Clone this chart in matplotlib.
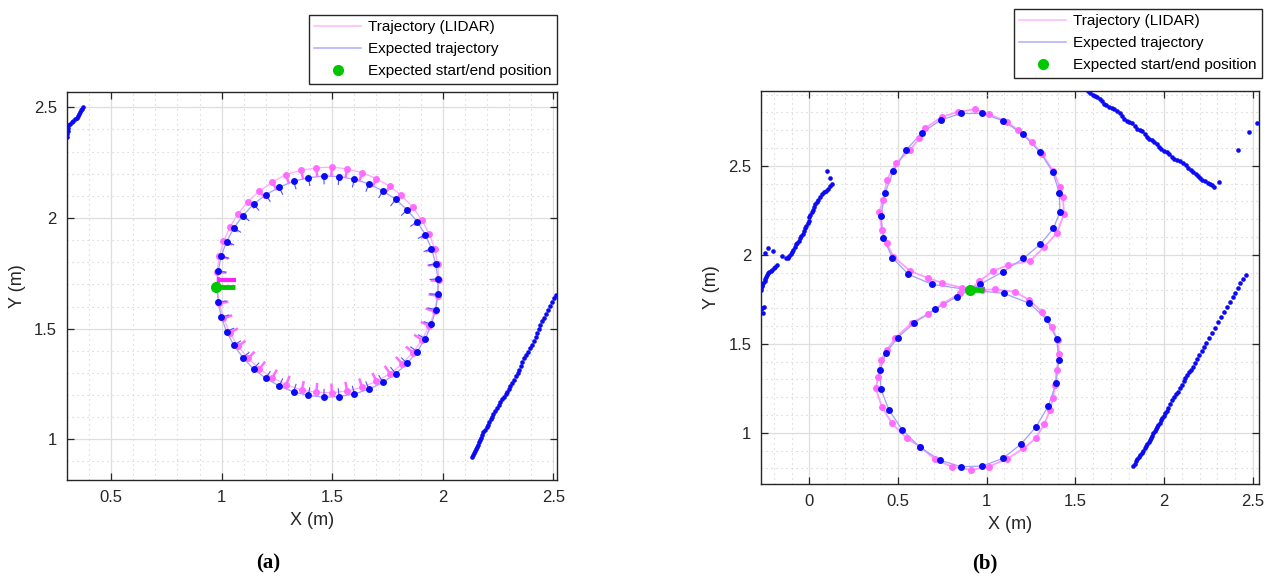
import numpy as np
import matplotlib.pyplot as plt
from matplotlib.lines import Line2D
from matplotlib.collections import LineCollection
from matplotlib.ticker import MultipleLocator

plt.rcParams['font.family'] = ['Liberation Sans', 'DejaVu Sans']

# ---------------- (a) circular trajectory ----------------
blue_a_x = [0.979, 0.984, 0.998, 1.022, 1.055, 1.096, 1.144, 1.199, 1.260, 1.325, 1.392, 1.462,
            1.531, 1.600, 1.666, 1.729, 1.787, 1.839, 1.884, 1.921, 1.949, 1.968, 1.978, 1.978,
            1.968, 1.949, 1.921, 1.884, 1.839, 1.787, 1.729, 1.666, 1.600, 1.531, 1.462, 1.392,
            1.325, 1.260, 1.199, 1.144, 1.096, 1.055, 1.022, 0.998, 0.984]
blue_a_y = [1.690, 1.620, 1.552, 1.487, 1.425, 1.369, 1.318, 1.276, 1.241, 1.214, 1.198, 1.190,
            1.193, 1.205, 1.226, 1.257, 1.296, 1.343, 1.396, 1.455, 1.519, 1.586, 1.655, 1.725,
            1.794, 1.861, 1.925, 1.984, 2.037, 2.084, 2.123, 2.154, 2.175, 2.187, 2.190, 2.182,
            2.166, 2.139, 2.105, 2.062, 2.011, 1.955, 1.893, 1.828, 1.760]
pink_a_x = [0.979, 0.989, 1.008, 1.037, 1.074, 1.119, 1.171, 1.229, 1.292, 1.362, 1.428, 1.498,
            1.567, 1.635, 1.700, 1.761, 1.816, 1.865, 1.906, 1.939, 1.963, 1.977, 1.982, 1.977,
            1.963, 1.939, 1.906, 1.865, 1.812, 1.761, 1.700, 1.635, 1.567, 1.498, 1.428, 1.359,
            1.289, 1.229, 1.171, 1.119, 1.074, 1.037, 1.008, 0.989, 0.979]
pink_a_y = [1.684, 1.614, 1.546, 1.481, 1.420, 1.366, 1.318, 1.278, 1.247, 1.222, 1.213, 1.210,
            1.218, 1.235, 1.262, 1.297, 1.341, 1.392, 1.450, 1.513, 1.579, 1.649, 1.720, 1.791,
            1.861, 1.927, 1.990, 2.048, 2.103, 2.143, 2.178, 2.205, 2.222, 2.230, 2.227, 2.215,
            2.196, 2.162, 2.122, 2.074, 2.020, 1.959, 1.894, 1.826, 1.756]
center_blue_a = (1.479, 1.690)
center_pink_a = (1.477, 1.720)
start_a = (0.976, 1.690)
start_lidar_a = (0.985, 1.718)

wall_a1_x = [0.299, 0.301, 0.303, 0.305, 0.307, 0.313, 0.321, 0.329, 0.337, 0.344, 0.350, 0.355,
             0.359, 0.363, 0.367, 0.371]
wall_a1_y = [2.365, 2.378, 2.392, 2.405, 2.418, 2.426, 2.433, 2.439, 2.446, 2.454, 2.462, 2.470,
             2.478, 2.486, 2.493, 2.500]
wall_a2_x = [2.131, 2.136, 2.141, 2.146, 2.151, 2.156, 2.160, 2.164, 2.168, 2.173, 2.178, 2.184,
             2.192, 2.200, 2.206, 2.211, 2.217, 2.222, 2.228, 2.236, 2.245, 2.253, 2.260, 2.268,
             2.277, 2.285, 2.292, 2.298, 2.305, 2.313, 2.321, 2.330, 2.338, 2.345, 2.352, 2.360,
             2.367, 2.376, 2.386, 2.395, 2.404, 2.413, 2.420, 2.427, 2.434, 2.442, 2.450, 2.458,
             2.467, 2.476, 2.486, 2.496, 2.504, 2.510]
wall_a2_y = [0.921, 0.930, 0.938, 0.946, 0.955, 0.964, 0.975, 0.986, 0.997, 1.008, 1.020, 1.032,
             1.044, 1.056, 1.066, 1.077, 1.090, 1.102, 1.115, 1.128, 1.142, 1.155, 1.168, 1.180,
             1.192, 1.203, 1.215, 1.228, 1.242, 1.256, 1.270, 1.284, 1.298, 1.314, 1.332, 1.350,
             1.366, 1.380, 1.396, 1.412, 1.428, 1.445, 1.462, 1.480, 1.500, 1.516, 1.533, 1.550,
             1.568, 1.586, 1.604, 1.622, 1.640, 1.652]

# ---------------- (b) figure-eight trajectory ----------------
blue_b_x = [0.906, 0.962, 1.091, 1.207, 1.301, 1.376, 1.413, 1.409, 1.373, 1.301, 1.203, 1.094,
            0.975, 0.854, 0.741, 0.634, 0.545, 0.474, 0.426, 0.404, 0.417, 0.468, 0.558, 0.690,
            0.906, 1.097, 1.241, 1.338, 1.395, 1.406, 1.391, 1.347, 1.278, 1.192, 1.091, 0.975,
            0.856, 0.737, 0.624, 0.524, 0.449, 0.403, 0.399, 0.430, 0.498, 0.592, 0.709, 0.831,
            0.906]
blue_b_y = [1.802, 1.834, 1.904, 1.980, 2.058, 2.148, 2.241, 2.348, 2.464, 2.576, 2.676, 2.752,
            2.794, 2.794, 2.757, 2.685, 2.588, 2.472, 2.345, 2.218, 2.095, 1.983, 1.891, 1.834,
            1.802, 1.783, 1.727, 1.637, 1.526, 1.408, 1.278, 1.150, 1.033, 0.935, 0.856, 0.813,
            0.809, 0.846, 0.918, 1.015, 1.128, 1.244, 1.352, 1.446, 1.535, 1.618, 1.694, 1.764,
            1.802]
pink_b_x = [0.906, 0.956, 1.037, 1.122, 1.245, 1.325, 1.395, 1.436, 1.429, 1.413, 1.376, 1.311,
            1.254, 1.178, 1.113, 1.010, 0.935, 0.840, 0.746, 0.652, 0.620, 0.567, 0.488, 0.436,
            0.417, 0.393, 0.408, 0.436, 0.474, 0.567, 0.671, 0.746, 0.860,
            0.972, 1.047, 1.160, 1.240, 1.311, 1.367, 1.400, 1.409, 1.395, 1.385, 1.373, 1.357,
            1.325, 1.276, 1.207, 1.113, 1.010, 0.912, 0.802, 0.709, 0.624, 0.549, 0.465, 0.408,
            0.374, 0.389, 0.403, 0.436, 0.483, 0.577, 0.671, 0.752, 0.850, 0.906]
pink_b_y = [1.802, 1.850, 1.910, 1.942, 1.965, 2.045, 2.120, 2.229, 2.326, 2.379, 2.470, 2.566,
            2.635, 2.699, 2.748, 2.790, 2.818, 2.803, 2.775, 2.710, 2.654, 2.588, 2.514, 2.419,
            2.307, 2.241, 2.139, 2.064, 1.989, 1.910, 1.868, 1.843, 1.815,
            1.802, 1.806, 1.792, 1.745, 1.680, 1.595, 1.521, 1.440, 1.352, 1.270, 1.193, 1.128,
            1.049, 0.969, 0.912, 0.852, 0.810, 0.791, 0.810, 0.850, 0.921, 0.969, 1.053, 1.146,
            1.249, 1.315, 1.408, 1.465, 1.530, 1.618, 1.667, 1.726, 1.783, 1.802]
start_b = (0.906, 1.802)
start_lidar_b = (0.930, 1.808)

wall_b1_x = [-0.272, -0.268, -0.264, -0.256,
             -0.272, -0.271, -0.270, -0.266, -0.259, -0.252, -0.248, -0.245, -0.241, -0.236,
             -0.229, -0.219, -0.209, -0.199, -0.192, -0.185,
             -0.250, -0.232, -0.203, -0.156,
             -0.131, -0.121, -0.113, -0.105, -0.098, -0.090, -0.081, -0.075, -0.068, -0.060,
             -0.052, -0.046, -0.038, -0.030, -0.025, -0.018, -0.010, -0.004, 0.000, 0.004,
             0.012, 0.020, 0.026, 0.032, 0.040, 0.050, 0.060, 0.070, 0.082, 0.095, 0.107,
             0.117, 0.126, 0.116, 0.098]
wall_b1_y = [1.693, 1.700, 1.671, 1.707,
             1.802, 1.812, 1.822, 1.832, 1.842, 1.853, 1.864, 1.876, 1.886, 1.896,
             1.905, 1.911, 1.917, 1.925, 1.933, 1.942,
             2.009, 2.040, 2.023, 1.994,
             1.980, 1.984, 1.992, 2.003, 2.015, 2.027, 2.045, 2.058, 2.066, 2.078,
             2.095, 2.108, 2.118, 2.132, 2.150, 2.164, 2.176, 2.192, 2.210, 2.226,
             2.238, 2.250, 2.266, 2.284, 2.296, 2.310, 2.325, 2.340, 2.350, 2.360, 2.370,
             2.384, 2.400, 2.430, 2.472]
wall_b2_x = [1.573, 1.585, 1.597, 1.610, 1.624, 1.639, 1.650, 1.662, 1.675, 1.690, 1.705, 1.720,
             1.735, 1.752, 1.762, 1.772, 1.789, 1.805, 1.820, 1.835, 1.847, 1.862, 1.878, 1.893,
             1.903, 1.915, 1.930, 1.945, 1.959, 1.972, 1.985, 2.000, 2.015, 2.030, 2.045, 2.058,
             2.073, 2.090, 2.109, 2.122, 2.135, 2.150, 2.165, 2.178, 2.190, 2.203, 2.215, 2.230,
             2.245, 2.258, 2.270, 2.282, 2.307, 2.416, 2.481, 2.523]
wall_b2_y = [2.922, 2.910, 2.900, 2.892, 2.885, 2.876, 2.862, 2.848, 2.840, 2.832, 2.826, 2.818,
             2.808, 2.794, 2.778, 2.765, 2.752, 2.745, 2.738, 2.722, 2.708, 2.700, 2.694, 2.680,
             2.663, 2.650, 2.642, 2.635, 2.624, 2.608, 2.592, 2.584, 2.576, 2.566, 2.550, 2.536,
             2.530, 2.524, 2.514, 2.503, 2.490, 2.478, 2.466, 2.455, 2.445, 2.432, 2.420, 2.412,
             2.405, 2.398, 2.390, 2.382, 2.406, 2.589, 2.688, 2.739]
wall_b3_x = [1.825, 1.834, 1.842, 1.850, 1.858, 1.866, 1.874, 1.882, 1.890, 1.898, 1.906, 1.914,
             1.921, 1.928, 1.934, 1.940, 1.947, 1.954, 1.961, 1.968, 1.976, 1.984, 1.991, 1.998,
             2.006, 2.015, 2.024, 2.034, 2.043, 2.055, 2.068, 2.081, 2.090, 2.100, 2.110, 2.118,
             2.130, 2.142, 2.153, 2.165, 2.176, 2.188, 2.199, 2.212, 2.225, 2.237, 2.253, 2.269,
             2.288, 2.306, 2.322, 2.338, 2.355, 2.372, 2.387, 2.401, 2.415, 2.429, 2.446, 2.462]
wall_b3_y = [0.813, 0.826, 0.839, 0.851, 0.863, 0.876, 0.888, 0.900, 0.912, 0.924, 0.936, 0.948,
             0.959, 0.971, 0.983, 0.997, 1.008, 1.019, 1.031, 1.043, 1.056, 1.070, 1.083, 1.096,
             1.109, 1.123, 1.140, 1.160, 1.184, 1.200, 1.215, 1.230, 1.250, 1.268, 1.290, 1.306,
             1.324, 1.340, 1.355, 1.371, 1.392, 1.414, 1.437, 1.459, 1.480, 1.502, 1.530, 1.558,
             1.591, 1.624, 1.652, 1.680, 1.708, 1.736, 1.762, 1.787, 1.815, 1.843, 1.866, 1.886]

BLUE = '#0a0af5'
PINK = '#ff6cff'
BLUE_LINE = '#a0a0ff'
PINK_LINE = '#ffaaff'
GREEN = '#00c800'
DARK = '#262626'


def heading_segments(xs, ys, center, length):
    # robot heading: short line from each pose pointing to the circle centre
    segs = []
    for x, y in zip(xs, ys):
        dx, dy = center[0] - x, center[1] - y
        n = np.hypot(dx, dy)
        segs.append([(x, y), (x + length * dx / n, y + length * dy / n)])
    return segs


def style_axes(ax, xlim, ylim, xticks, yticks):
    ax.set_xlim(xlim)
    ax.set_ylim(ylim)
    ax.set_xticks(xticks)
    ax.set_yticks(yticks)
    ax.set_xticklabels([f'{v:g}' for v in xticks])
    ax.set_yticklabels([f'{v:g}' for v in yticks])
    ax.xaxis.set_minor_locator(MultipleLocator(0.1))
    ax.yaxis.set_minor_locator(MultipleLocator(0.1))
    ax.grid(which='major', color='#dedede', lw=0.9)
    ax.grid(which='minor', color='#cdcdcd', lw=0.8, linestyle=(0, (1, 3.5)))
    ax.set_axisbelow(True)
    ax.tick_params(which='major', direction='in', top=True, right=True, length=5,
                   width=0.9, labelsize=12, colors=DARK, pad=7)
    ax.tick_params(which='minor', length=0)
    for s in ax.spines.values():
        s.set_color(DARK)
        s.set_linewidth(1.0)
    ax.set_xlabel('X (m)', fontsize=13, color=DARK, labelpad=5)
    ax.set_ylabel('Y (m)', fontsize=13, color=DARK, labelpad=6)


def add_legend(fig, anchor):
    handles = [Line2D([], [], color='#ffbfff', lw=1.2),
               Line2D([], [], color='#b4b4ff', lw=1.2),
               Line2D([], [], ls='none', marker='o', color=GREEN, ms=7)]
    labels = ['Trajectory (LIDAR)', 'Expected trajectory', 'Expected start/end position']
    leg = fig.legend(handles, labels, loc='upper right', bbox_to_anchor=anchor,
                     fontsize=11, frameon=True, fancybox=False, framealpha=1,
                     edgecolor=DARK, handlelength=3.1, handletextpad=0.45,
                     borderpad=0.35, labelspacing=0.52, borderaxespad=0)
    leg.get_frame().set_linewidth(1.0)


W, H = 1270, 578
fig = plt.figure(figsize=(W / 100, H / 100), dpi=100)

# ---- panel (a)
ax1 = fig.add_axes([66.7 / W, 1 - 480 / H, 490.6 / W, 387.7 / H])
style_axes(ax1, (0.299, 2.518), (0.816, 2.568), [0.5, 1, 1.5, 2, 2.5], [1, 1.5, 2, 2.5])

ax1.plot(pink_a_x + pink_a_x[:1], pink_a_y + pink_a_y[:1], color=PINK_LINE, lw=0.9, zorder=2)
ax1.plot(blue_a_x + blue_a_x[:1], blue_a_y + blue_a_y[:1], color=BLUE_LINE, lw=0.9, zorder=2)
ax1.add_collection(LineCollection(heading_segments(pink_a_x, pink_a_y, center_pink_a, 0.042),
                                  colors=PINK, linewidths=1.8, zorder=3))
ax1.add_collection(LineCollection(heading_segments(blue_a_x, blue_a_y, center_blue_a, 0.038),
                                  colors='#5050ff', linewidths=0.8, zorder=3))
ax1.plot(pink_a_x, pink_a_y, 'o', color=PINK, ms=5, mew=0, zorder=4)
ax1.plot(blue_a_x, blue_a_y, 'o', color=BLUE, ms=5, mew=0, zorder=5)
ax1.plot(wall_a1_x, wall_a1_y, 'o', color=BLUE, ms=3.3, mew=0, zorder=4)
ax1.plot(wall_a2_x, wall_a2_y, 'o', color=BLUE, ms=3.3, mew=0, zorder=4)
# start poses
ax1.plot([start_lidar_a[0], start_lidar_a[0] + 0.08], [start_lidar_a[1]] * 2,
         color='#ff22ff', lw=3, solid_capstyle='butt', zorder=6)
ax1.plot([start_lidar_a[0]] * 2, [start_lidar_a[1] - 0.012, start_lidar_a[1] + 0.012],
         color='#ff22ff', lw=2, zorder=6)
ax1.plot([start_a[0], start_a[0] + 0.085], [start_a[1]] * 2,
         color=GREEN, lw=3.5, solid_capstyle='butt', zorder=7)
ax1.plot(*start_a, 'o', color=GREEN, ms=8, mew=0, zorder=8)

# ---- panel (b)
ax2 = fig.add_axes([761 / W, 1 - 484 / H, 498.3 / W, 393 / H])
style_axes(ax2, (-0.273, 2.537), (0.712, 2.920), [0, 0.5, 1, 1.5, 2, 2.5], [1, 1.5, 2, 2.5])

ax2.plot(pink_b_x, pink_b_y, color='#ff9cff', lw=1.3, zorder=2)
ax2.plot(blue_b_x, blue_b_y, color=BLUE_LINE, lw=0.9, zorder=2)
ax2.plot(pink_b_x, pink_b_y, 'o', color=PINK, ms=5, mew=0, zorder=4)
ax2.plot(blue_b_x, blue_b_y, 'o', color=BLUE, ms=5, mew=0, zorder=5)
for wx, wy in [(wall_b1_x, wall_b1_y), (wall_b2_x, wall_b2_y), (wall_b3_x, wall_b3_y)]:
    ax2.plot(wx, wy, 'o', color=BLUE, ms=3.3, mew=0, zorder=4)
ax2.plot([start_lidar_b[0], start_lidar_b[0] + 0.06], [start_lidar_b[1]] * 2,
         color='#ff22ff', lw=3, solid_capstyle='butt', zorder=6)
ax2.plot([start_b[0], start_b[0] + 0.08], [start_b[1], start_b[1] - 0.004],
         color=GREEN, lw=3.5, solid_capstyle='butt', zorder=7)
ax2.plot(*start_b, 'o', color=GREEN, ms=8, mew=0, zorder=8)

add_legend(fig, (557 / W, 1 - 15 / H))
add_legend(fig, (1262 / W, 1 - 9 / H))

fig.text(268 / W, 1 - 563 / H, '(a)', ha='center', va='center', fontsize=15,
         fontweight='bold', family=['Liberation Serif', 'DejaVu Serif'])
fig.text(985 / W, 1 - 563 / H, '(b)', ha='center', va='center', fontsize=15,
         fontweight='bold', family=['Liberation Serif', 'DejaVu Serif'])

fig.savefig('out.png', dpi=100)
